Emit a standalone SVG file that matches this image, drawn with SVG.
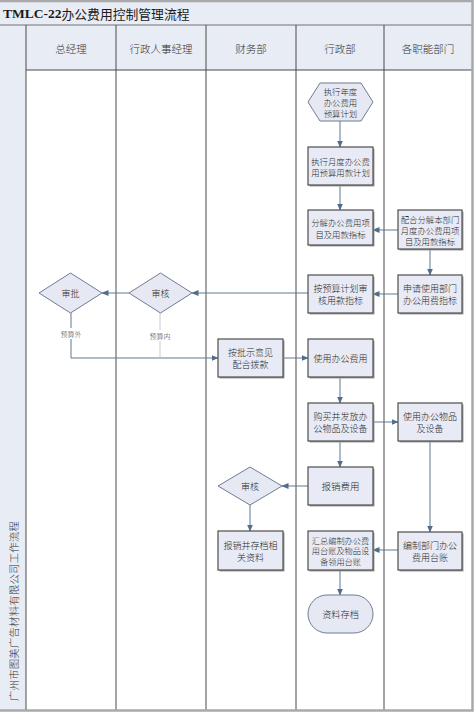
<svg xmlns="http://www.w3.org/2000/svg" width="474" height="712" viewBox="0 0 474 712">
<defs>
<style>
.bg{fill:#ffffff}
.band{fill:#e8ecf5}
.lane{stroke:#4a4a4a;stroke-width:1;fill:none}
.box{fill:#e8ebf5;stroke:#4d4d4d;stroke-width:1.2}
.shadow{fill:#a0a0a0}
.dia{fill:#e6e9f3;stroke:#6f7c92;stroke-width:1}
.conn{stroke:#5f7891;stroke-width:1;fill:none}
.conn2{stroke:#c4c8ce;stroke-width:1;fill:none}
.t{font-family:"Noto Sans CJK SC","Noto Sans CJK JP",sans-serif;font-weight:300;fill:#2a2a2a;text-anchor:middle;dominant-baseline:central}
.f9{font-size:9px}
.f85{font-size:8.4px}
.hdr{font-family:"Noto Sans CJK SC",sans-serif;font-weight:300;font-size:10.5px;fill:#333;text-anchor:middle;dominant-baseline:central}
.lbl{font-family:"Noto Sans CJK SC",sans-serif;font-weight:300;font-size:7px;fill:#444;text-anchor:middle;dominant-baseline:central}
</style>
<marker id="arr" markerWidth="7" markerHeight="6" refX="6.5" refY="3" orient="auto" markerUnits="userSpaceOnUse">
<path d="M0,0 L7,3 L0,6 Z" fill="#4f6d8c"/>
</marker>
</defs>

<g id="frame">
<rect x="0" y="0" width="474" height="712" class="bg"/>
<rect x="0" y="0" width="474" height="25" class="band"/>
<rect x="0" y="25" width="26" height="685" class="band"/>
<rect x="26" y="25" width="446" height="45" class="band"/>
<text x="3" y="13" font-family="Liberation Serif,'Noto Sans CJK SC',serif" font-size="13.5" font-weight="bold" fill="#1a1a1a" dominant-baseline="central">TMLC-22<tspan font-family="'Noto Sans CJK SC',sans-serif" font-weight="normal" font-size="12.8">办公费用控制管理流程</tspan></text>
<line x1="0" y1="25" x2="472" y2="25" stroke="#707070" stroke-width="1"/>
<line x1="26" y1="25" x2="26" y2="710" class="lane"/>
<line x1="116" y1="25" x2="116" y2="710" class="lane"/>
<line x1="206" y1="25" x2="206" y2="710" class="lane"/>
<line x1="296" y1="25" x2="296" y2="710" class="lane"/>
<line x1="384" y1="25" x2="384" y2="710" class="lane"/>
<line x1="26" y1="70" x2="472" y2="70" class="lane"/>
<path d="M0,1 H472.5 V710.5 H0" fill="none" stroke="#a9a9a9" stroke-width="2.5"/>
<text class="hdr" x="71" y="48">总经理</text>
<text class="hdr" x="161" y="48">行政人事经理</text>
<text class="hdr" x="251" y="48">财务部</text>
<text class="hdr" x="340" y="48">行政部</text>
<text class="hdr" x="428" y="48">各职能部门</text>
<text class="hdr" transform="translate(13,611) rotate(-90)" x="0" y="0" style="font-size:10.4px;letter-spacing:0.2px">广州市图美广告材料有限公司工作流程</text>
</g>

<g id="connectors">
<line class="conn" x1="340" y1="121" x2="340" y2="147" marker-end="url(#arr)"/>
<line class="conn" x1="340" y1="185" x2="340" y2="210" marker-end="url(#arr)"/>
<line class="conn" x1="398" y1="230" x2="373" y2="230" marker-end="url(#arr)"/>
<line class="conn" x1="430" y1="249" x2="430" y2="275" marker-end="url(#arr)"/>
<line class="conn" x1="398" y1="294" x2="373" y2="294" marker-end="url(#arr)"/>
<line class="conn" x1="308" y1="293" x2="192" y2="293" marker-end="url(#arr)"/>
<line class="conn" x1="129" y1="293" x2="102" y2="293" marker-end="url(#arr)"/>
<polyline class="conn" points="71,313 71,358 218,358" marker-end="url(#arr)"/>
<line class="conn2" x1="160" y1="313" x2="160" y2="358"/>
<line class="conn" x1="284" y1="358" x2="308" y2="358" marker-end="url(#arr)"/>
<line class="conn" x1="340" y1="377" x2="340" y2="403" marker-end="url(#arr)"/>
<line class="conn" x1="373" y1="422" x2="398" y2="422" marker-end="url(#arr)"/>
<line class="conn" x1="340" y1="441" x2="340" y2="467" marker-end="url(#arr)"/>
<line class="conn" x1="430" y1="441" x2="430" y2="532" marker-end="url(#arr)"/>
<line class="conn" x1="308" y1="486" x2="282" y2="486" marker-end="url(#arr)"/>
<line class="conn" x1="250" y1="505" x2="250" y2="531" marker-end="url(#arr)"/>
<line class="conn" x1="398" y1="550" x2="373" y2="550" marker-end="url(#arr)"/>
<line class="conn" x1="340" y1="570" x2="340" y2="595" marker-end="url(#arr)"/>
<rect x="55" y="328" width="32" height="11" fill="#ffffff"/>
<text class="lbl" x="71" y="333.5">预算外</text>
<rect x="144" y="330" width="32" height="11" fill="#ffffff"/>
<text class="lbl" x="160" y="335.5">预算内</text>
</g>

<g id="n1">
<polygon class="dia" points="308,102 320,83 361,83 373,102 361,121 320,121"/>
<text class="t f85" x="340.5" y="91">执行年度</text>
<text class="t f85" x="340.5" y="102">办公费用</text>
<text class="t f85" x="340.5" y="113">预算计划</text>
</g>

<g id="n2">
<rect class="shadow" x="309.5" y="148.5" width="65" height="38"/>
<rect class="box" x="308" y="147" width="65" height="38"/>
<text class="t f85" x="340.5" y="160.5">执行月度办公费</text>
<text class="t f85" x="340.5" y="172">用预算用款计划</text>
</g>

<g id="n3">
<rect class="shadow" x="309.5" y="211.5" width="65" height="35"/>
<rect class="box" x="308" y="210" width="65" height="35"/>
<text class="t f85" x="340.5" y="222">分解办公费用项</text>
<text class="t f85" x="340.5" y="233.5">目及用款指标</text>
</g>

<g id="n4">
<rect class="shadow" x="399.5" y="211.5" width="64" height="39"/>
<rect class="box" x="398" y="210" width="64" height="39"/>
<text class="t f85" x="430" y="218.5">配合分解本部门</text>
<text class="t f85" x="430" y="229.5">月度办公费用项</text>
<text class="t f85" x="430" y="240.5">目及用款指标</text>
</g>

<g id="n5">
<rect class="shadow" x="399.5" y="276.5" width="64" height="38"/>
<rect class="box" x="398" y="275" width="64" height="38"/>
<text class="t f9" x="430" y="288">申请使用部门</text>
<text class="t f9" x="430" y="300">办公用费指标</text>
</g>

<g id="n6">
<rect class="shadow" x="309.5" y="276.5" width="65" height="38"/>
<rect class="box" x="308" y="275" width="65" height="38"/>
<text class="t f9" x="340.5" y="288">按预算计划审</text>
<text class="t f9" x="340.5" y="300">核用款指标</text>
</g>

<g id="n7">
<polygon class="dia" points="129,293 160.5,273 192,293 160.5,313"/>
<text class="t f9" x="160.5" y="293">审核</text>
</g>

<g id="n8">
<polygon class="dia" points="39,293 70.5,273 102,293 70.5,313"/>
<text class="t f9" x="70.5" y="293">审批</text>
</g>

<g id="n9">
<rect class="shadow" x="219.5" y="340.5" width="65" height="38"/>
<rect class="box" x="218" y="339" width="65" height="38"/>
<text class="t f9" x="250.5" y="352">按批示意见</text>
<text class="t f9" x="250.5" y="364">配合拨款</text>
</g>

<g id="n10">
<rect class="shadow" x="309.5" y="340.5" width="65" height="38"/>
<rect class="box" x="308" y="339" width="65" height="38"/>
<text class="t f9" x="340.5" y="358">使用办公费用</text>
</g>

<g id="n11">
<rect class="shadow" x="309.5" y="404.5" width="65" height="38"/>
<rect class="box" x="308" y="403" width="65" height="38"/>
<text class="t f9" x="340.5" y="416.5">购买并发放办</text>
<text class="t f9" x="340.5" y="428">公物品及设备</text>
</g>

<g id="n12">
<rect class="shadow" x="399.5" y="404.5" width="64" height="38"/>
<rect class="box" x="398" y="403" width="64" height="38"/>
<text class="t f9" x="430" y="416.5">使用办公物品</text>
<text class="t f9" x="430" y="428">及设备</text>
</g>

<g id="n13">
<rect class="shadow" x="309.5" y="468.5" width="65" height="38"/>
<rect class="box" x="308" y="467" width="65" height="38"/>
<text class="t" style="font-size:9.5px" x="340.5" y="486">报销费用</text>
</g>

<g id="n14">
<polygon class="dia" points="218,486 250,467 282,486 250,505"/>
<text class="t f9" x="250" y="486">审核</text>
</g>

<g id="n15">
<rect class="shadow" x="219.5" y="532.5" width="65" height="39"/>
<rect class="box" x="218" y="531" width="65" height="39"/>
<text class="t f9" x="250.5" y="545">报销并存档相</text>
<text class="t f9" x="250.5" y="557">关资料</text>
</g>

<g id="n16">
<rect class="shadow" x="309.5" y="532.5" width="65" height="39"/>
<rect class="box" x="308" y="531" width="65" height="39"/>
<text class="t" style="font-size:8.2px" x="340.5" y="539.5">汇总编制办公费</text>
<text class="t" style="font-size:8.2px" x="340.5" y="550">用台账及物品设</text>
<text class="t" style="font-size:8.2px" x="340.5" y="560.5">备领用台账</text>
</g>

<g id="n17">
<rect class="shadow" x="399.5" y="533.5" width="64" height="38"/>
<rect class="box" x="398" y="532" width="64" height="38"/>
<text class="t f9" x="430" y="545.5">编制部门办公</text>
<text class="t f9" x="430" y="557">费用台账</text>
</g>

<g id="n18">
<rect class="dia" x="308" y="595" width="65" height="38" rx="19" ry="19"/>
<text class="t" style="font-size:9.2px" x="340.5" y="614">资料存档</text>
</g>
</svg>
